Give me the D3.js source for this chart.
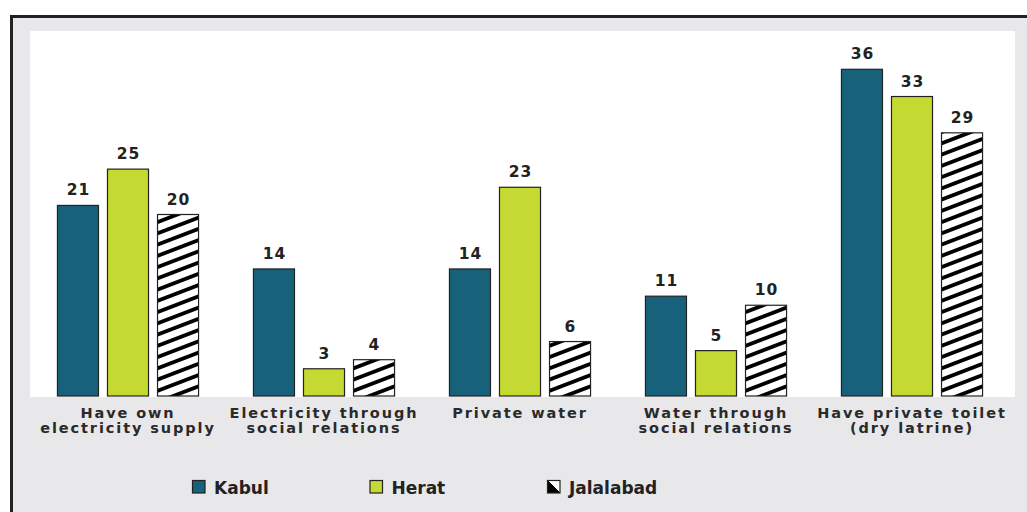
<!DOCTYPE html>
<html><head><meta charset="utf-8">
<script src="https://cdn.jsdelivr.net/npm/d3@7"></script>
<style>html,body{margin:0;padding:0;background:#fff;}svg{display:block;}</style>
</head><body>
<script>
const categories = [
  ["Have own", "electricity supply"],
  ["Electricity through", "social relations"],
  ["Private water"],
  ["Water through", "social relations"],
  ["Have private toilet", "(dry latrine)"]
];
const seriesNames = ["Kabul", "Herat", "Jalalabad"];
const kabul = [21, 14, 14, 11, 36];
const herat = [25, 3, 23, 5, 33];
const jalalabad = [20, 4, 6, 10, 29];
const seriesValues = [kabul, herat, jalalabad];

const W = 1027, H = 512;
const svg = d3.select("body").append("svg").attr("width", W).attr("height", H);
const defs = svg.append("defs");
const pat = defs.append("pattern").attr("id", "hatch").attr("patternUnits", "userSpaceOnUse")
  .attr("width", 12).attr("height", 10.5).attr("patternTransform", "rotate(-21)");
pat.append("rect").attr("width", 12).attr("height", 10.5).attr("fill", "#fff");
pat.append("rect").attr("y", 0).attr("width", 12).attr("height", 3.8).attr("fill", "#000");

const lpat = defs.append("linearGradient").attr("id", "legHatch").attr("x1", 0).attr("y1", 1).attr("x2", 1).attr("y2", 0);
lpat.append("stop").attr("offset", "0.5").attr("stop-color", "#000");
lpat.append("stop").attr("offset", "0.5").attr("stop-color", "#fff");

// frame
svg.append("rect").attr("x", 11.5).attr("y", 16.5).attr("width", W).attr("height", H)
  .attr("fill", "#e8e8ea").attr("stroke", "#222").attr("stroke-width", 3);
svg.append("rect").attr("x", 30).attr("y", 31).attr("width", 985).attr("height", 366).attr("fill", "#fff");

const colors = ["#17627a", "#c4d932", "url(#hatch)"];
const x0 = d3.scaleBand().domain(d3.range(categories.length)).range([30, 1010])
  .paddingInner(0.275).paddingOuter(0.1375);
const x1 = d3.scaleBand().domain(d3.range(seriesNames.length)).range([0, x0.bandwidth()])
  .paddingInner(0.16).paddingOuter(0);
const y = d3.scaleLinear().domain([0, 40]).range([396, 33]);

const font = "'DejaVu Sans', Verdana, sans-serif";
const groups = svg.append("g").selectAll("g").data(categories).join("g")
  .attr("transform", (d, i) => `translate(${x0(i)},0)`);

groups.each(function(cat, ci) {
  const g = d3.select(this);
  seriesValues.forEach((vals, si) => {
    const v = vals[ci];
    g.append("rect").attr("x", x1(si) + 0.5).attr("y", y(v)).attr("width", x1.bandwidth() - 1)
      .attr("height", y(0) - y(v)).attr("fill", colors[si]).attr("stroke", "#222").attr("stroke-width", 1.2);
    g.append("text").attr("x", x1(si) + x1.bandwidth() / 2 + 0.5).attr("y", y(v) - 10)
      .attr("text-anchor", "middle").attr("font-family", font).attr("font-weight", "bold")
      .attr("font-size", 15.5).attr("letter-spacing", 1).attr("fill", "#222").text(v);
  });
  cat.forEach((line, li) => {
    g.append("text").attr("x", x0.bandwidth() / 2).attr("y", 418 + li * 14.5)
      .attr("text-anchor", "middle").attr("font-family", font).attr("font-weight", "bold")
      .attr("font-size", 14.5).attr("letter-spacing", 1.9).attr("fill", "#2a2a2a").text(line);
  });
});

// legend
const legX = d3.scaleLinear().domain([0, 2]).range([192, 547]);
const legColors = ["#17627a", "#c4d932", "url(#legHatch)"];
const leg = svg.append("g").selectAll("g").data(seriesNames).join("g")
  .attr("transform", (d, i) => `translate(${legX(i)},480)`);
leg.append("rect").attr("x", 0.5).attr("y", 0.5).attr("width", 12.5).attr("height", 12.5)
  .attr("fill", (d, i) => legColors[i]).attr("stroke", "#222").attr("stroke-width", 1.2);
leg.append("text").attr("x", 22).attr("y", 13.5).attr("font-family", font).attr("font-weight", "bold")
  .attr("font-size", 17).attr("fill", "#222").text(d => d);
</script>
</body></html>
